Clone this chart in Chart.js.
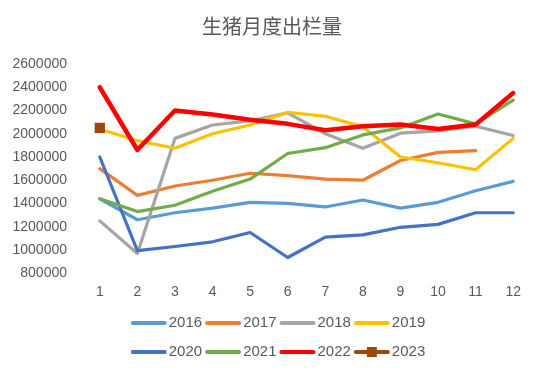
<!DOCTYPE html>
<html>
<head>
<meta charset="utf-8">
<script src="https://cdn.jsdelivr.net/npm/chart.js@4"></script>
<style>
  html, body { margin: 0; padding: 0; background: #fff; }
  #wrap { width: 550px; height: 375px; }
</style>
</head>
<body>
<div id="wrap"><canvas id="hog-chart"></canvas></div>
<script>
const months = ["1", "2", "3", "4", "5", "6", "7", "8", "9", "10", "11", "12"];
const yTicks = [800000, 1000000, 1200000, 1400000, 1600000, 1800000, 2000000, 2200000, 2400000, 2600000];

const s2016 = [1440000, 1260000, 1320000, 1360000, 1410000, 1400000, 1370000, 1430000, 1360000, 1410000, 1510000, 1590000];
const s2017 = [1700000, 1470000, 1550000, 1600000, 1660000, 1640000, 1610000, 1600000, 1770000, 1840000, 1855000, null];
const s2018 = [1250000, 970000, 1960000, 2075000, 2110000, 2180000, 2000000, 1875000, 2005000, 2025000, 2065000, 1985000];
const s2019 = [2040000, 1940000, 1875000, 2000000, 2075000, 2185000, 2150000, 2060000, 1800000, 1750000, 1690000, 1960000];
const s2020 = [1800000, 995000, 1030000, 1070000, 1150000, 935000, 1110000, 1130000, 1195000, 1220000, 1320000, 1320000];
const s2021 = [1440000, 1330000, 1385000, 1505000, 1610000, 1830000, 1880000, 1990000, 2050000, 2170000, 2085000, 2290000];
const s2022 = [2400000, 1860000, 2200000, 2165000, 2120000, 2085000, 2030000, 2065000, 2080000, 2040000, 2080000, 2350000];
const s2023 = [2050000, null, null, null, null, null, null, null, null, null, null, null];

const years = ["2016", "2017", "2018", "2019", "2020", "2021", "2022", "2023"];
const seriesList = [s2016, s2017, s2018, s2019, s2020, s2021, s2022, s2023];
const colors = ["#5B9BD5", "#ED7D31", "#A5A5A5", "#FFC000", "#4472C4", "#70AD47", "#FF0000", "#9E480E"];

const textColor = "#595959";

// Legend drawn by hand so it wraps 4 items per row like the original
const rowLegend = {
  id: "rowLegend",
  afterDraw(chart) {
    const ctx = chart.ctx;
    const rows = [[0, 1, 2, 3], [4, 5, 6, 7]];
    const rowY = [323, 352];
    ctx.save();
    ctx.font = "15px 'Liberation Sans', Arial, sans-serif";
    ctx.textBaseline = "middle";
    rows.forEach((row, r) => {
      const widths = row.map(i => 36 + 2 + ctx.measureText(years[i]).width);
      const total = widths.reduce((a, b) => a + b, 0) + 3 * (row.length - 1);
      let x = chart.width / 2 + 3 - total / 2;
      const y = rowY[r];
      row.forEach((i, k) => {
        ctx.strokeStyle = colors[i];
        ctx.lineWidth = 4;
        ctx.lineCap = "round";
        ctx.beginPath();
        ctx.moveTo(x + 2, y);
        ctx.lineTo(x + 34, y);
        ctx.stroke();
        if (i === 7) {
          ctx.fillStyle = colors[i];
          ctx.fillRect(x + 18 - 5, y - 5, 10, 10);
        }
        ctx.fillStyle = textColor;
        ctx.textAlign = "left";
        ctx.fillText(years[i], x + 38, y);
        x += widths[k] + 3;
      });
    });
    ctx.restore();
  }
};

const datasets = seriesList.map((data, i) => ({
  label: years[i],
  data: data,
  borderColor: colors[i],
  backgroundColor: colors[i],
  borderWidth: i === 6 ? 4.5 : 3.2,
  borderJoinStyle: "round",
  borderCapStyle: "round",
  tension: 0,
  spanGaps: false,
  pointRadius: i === 7 ? 5 : 0,
  pointStyle: "rect",
  pointHoverRadius: 0,
  order: -i
}));

new Chart(document.getElementById("hog-chart"), {
  type: "line",
  data: { labels: months, datasets: datasets },
  plugins: [rowLegend],
  options: {
    responsive: true,
    maintainAspectRatio: false,
    animation: false,
    layout: { padding: { left: 12, right: 18, top: 0, bottom: 63 } },
    plugins: {
      legend: { display: false },
      tooltip: { enabled: false },
      title: {
        display: true,
        text: "生猪月度出栏量",
        color: textColor,
        font: { family: "'Noto Sans CJK SC', sans-serif", size: 20, weight: "normal" },
        padding: { top: 14, bottom: 26 }
      }
    },
    scales: {
      x: {
        offset: true,
        grid: { display: false, drawTicks: false },
        border: { display: false },
        ticks: {
          color: textColor,
          padding: 11,
          font: { family: "'Liberation Sans', Arial, sans-serif", size: 14 }
        }
      },
      y: {
        min: 800000,
        max: 2600000,
        afterBuildTicks(scale) {
          scale.ticks = yTicks.map(v => ({ value: v }));
        },
        afterFit(scale) {
          scale.width = 69;
        },
        grid: { display: false, drawTicks: false },
        border: { display: false },
        ticks: {
          color: textColor,
          padding: 14,
          font: { family: "'Liberation Sans', Arial, sans-serif", size: 14 },
          callback: v => String(v)
        }
      }
    }
  }
});
</script>
</body>
</html>
